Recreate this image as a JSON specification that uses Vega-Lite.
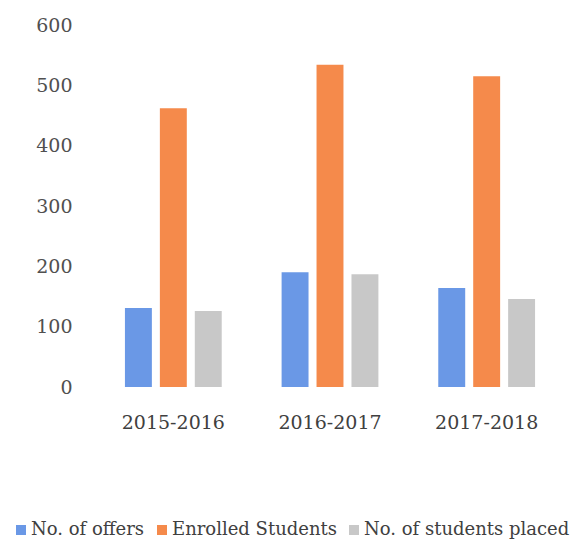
{
  "$schema": "https://vega.github.io/schema/vega-lite/v6.json",
  "width": 470,
  "height": 362,
  "autosize": {"type": "none"},
  "padding": {"left": 95, "top": 25, "right": 22, "bottom": 159},
  "background": "white",
  "config": {"view": {"stroke": null}, "font": "DejaVu Serif", "legend": {"padding": 0}},
  "data": {
    "values": [
      {"year": "2015-2016", "series": "No. of offers", "value": 131},
      {"year": "2015-2016", "series": "Enrolled Students", "value": 462},
      {"year": "2015-2016", "series": "No. of students placed", "value": 126},
      {"year": "2016-2017", "series": "No. of offers", "value": 190},
      {"year": "2016-2017", "series": "Enrolled Students", "value": 534},
      {"year": "2016-2017", "series": "No. of students placed", "value": 187},
      {"year": "2017-2018", "series": "No. of offers", "value": 164},
      {"year": "2017-2018", "series": "Enrolled Students", "value": 515},
      {"year": "2017-2018", "series": "No. of students placed", "value": 146}
    ]
  },
  "mark": {"type": "bar"},
  "encoding": {
    "x": {
      "field": "year", "type": "nominal",
      "scale": {"paddingInner": 0, "paddingOuter": 0},
      "axis": {"title": null, "labelAngle": 0, "domain": false, "ticks": false, "labelFontSize": 19, "labelColor": "#404040", "labelPadding": 26, "labelFont": "DejaVu Serif", "labelFontWeight": 300}
    },
    "xOffset": {
      "field": "series", "type": "nominal",
      "sort": ["No. of offers", "Enrolled Students", "No. of students placed"],
      "scale": {"paddingInner": 0.229, "paddingOuter": 0.857}
    },
    "y": {
      "field": "value", "type": "quantitative",
      "scale": {"domain": [0, 600]},
      "axis": {"title": null, "values": [0, 100, 200, 300, 400, 500, 600], "grid": false, "domain": false, "ticks": false, "labelFontSize": 19, "labelColor": "#505050", "labelPadding": 23, "labelFont": "DejaVu Serif", "labelFontWeight": 300}
    },
    "color": {
      "field": "series", "type": "nominal",
      "sort": ["No. of offers", "Enrolled Students", "No. of students placed"],
      "scale": {"domain": ["No. of offers", "Enrolled Students", "No. of students placed"], "range": ["#6a98e6", "#f58a4b", "#c8c8c8"]},
      "legend": {"title": null, "orient": "none", "legendX": -83, "legendY": 496, "direction": "horizontal", "symbolType": "square", "symbolSize": 100, "symbolStrokeWidth": 0, "labelFontSize": 18, "labelColor": "#404040", "labelFont": "DejaVu Serif", "labelFontWeight": 300, "labelLimit": 0, "columnPadding": 8, "symbolOffset": 0, "labelOffset": 1}
    }
  }
}
